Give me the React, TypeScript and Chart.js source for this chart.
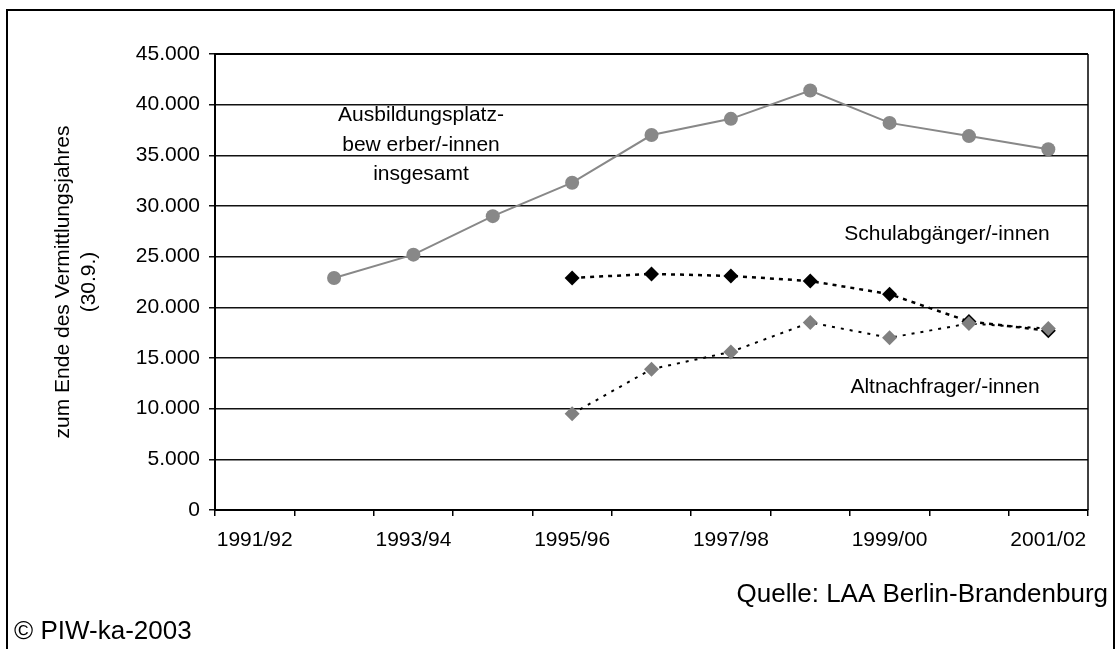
import React, { useEffect, useRef } from 'react';
import { Chart, registerables } from 'chart.js';

Chart.register(...registerables);

// ---- Data ----
const categories = ['1991/92', '1992/93', '1993/94', '1994/95', '1995/96', '1996/97', '1997/98', '1998/99', '1999/00', '2000/01', '2001/02'];
const totalApplicants = [null, 22900, 25200, 29000, 32300, 37000, 38600, 41400, 38200, 36900, 35600];
const schoolLeavers = [null, null, null, null, 22900, 23300, 23100, 22600, 21300, 18600, 17700];
const olderApplicants = [null, null, null, null, 9500, 13900, 15600, 18500, 17000, 18400, 17900];
const seriesNames = ['Ausbildungsplatzbewerber/-innen insgesamt', 'Schulabgänger/-innen', 'Altnachfrager/-innen'];
const yMin = 0;
const yMax = 45000;
const yStep = 5000;
const yTitle = ['zum Ende des Vermittlungsjahres', '(30.9.)'];
const totalLabelLines = ['Ausbildungsplatz-', 'bew erber/-innen', 'insgesamt'];
const schoolLabel = 'Schulabgänger/-innen';
const olderLabel = 'Altnachfrager/-innen';
const sourceText = 'Quelle: LAA Berlin-Brandenburg';
const copyrightText = '© PIW-ka-2003';

const FONT = '"Liberation Sans", Arial, Helvetica, sans-serif';

function formatThousands(v: number): string {
  const s = Math.round(v).toString();
  return s.replace(/\B(?=(\d{3})+(?!\d))/g, '.');
}

const overlayPlugin = {
  id: 'overlay',
  afterDraw(chart: any) {
    const ctx = chart.ctx as CanvasRenderingContext2D;
    const { left, top, right, bottom } = chart.chartArea;
    ctx.save();
    ctx.strokeStyle = '#000';
    // top border of plot
    ctx.lineWidth = 2;
    ctx.beginPath();
    ctx.moveTo(left - 1, top);
    ctx.lineTo(right, top);
    ctx.stroke();
    // right border of plot
    ctx.lineWidth = 1.5;
    ctx.beginPath();
    ctx.moveTo(right, top);
    ctx.lineTo(right, bottom);
    ctx.stroke();
    // outer frame
    ctx.lineWidth = 2;
    ctx.beginPath();
    ctx.moveTo(7, 700);
    ctx.lineTo(7, 10);
    ctx.lineTo(1114, 10);
    ctx.lineTo(1114, 700);
    ctx.stroke();

    ctx.fillStyle = '#000';
    ctx.textBaseline = 'middle';
    ctx.font = `21px ${FONT}`;
    ctx.textAlign = 'center';
    const lineYs = [115, 145, 174];
    totalLabelLines.forEach((t, i) => ctx.fillText(t, 421, lineYs[i]));
    ctx.fillText(schoolLabel, 947, 234);
    ctx.fillText(olderLabel, 945, 387);

    ctx.textBaseline = 'alphabetic';
    ctx.font = `26px ${FONT}`;
    ctx.textAlign = 'right';
    ctx.fillText(sourceText, 1108, 602);
    ctx.textAlign = 'left';
    ctx.fillText(copyrightText, 14, 639);
    ctx.restore();
  },
};

export default function App() {
  const canvasRef = useRef<HTMLCanvasElement | null>(null);

  useEffect(() => {
    if (!canvasRef.current) return;
    const chart = new Chart(canvasRef.current, {
      type: 'line',
      data: {
        labels: categories,
        datasets: [
          {
            label: seriesNames[0],
            data: totalApplicants,
            borderColor: '#888888',
            borderWidth: 2,
            pointStyle: 'circle',
            pointRadius: 7,
            pointBackgroundColor: '#888888',
            pointBorderColor: '#888888',
            pointBorderWidth: 0,
            tension: 0,
            order: 3,
          },
          {
            label: seriesNames[1],
            data: schoolLeavers,
            borderColor: '#000000',
            borderWidth: 2.5,
            borderDash: [4, 5],
            pointStyle: 'rectRot',
            pointRadius: 7.5,
            pointBackgroundColor: '#000000',
            pointBorderColor: '#000000',
            pointBorderWidth: 0,
            tension: 0,
            order: 2,
          },
          {
            label: seriesNames[2],
            data: olderApplicants,
            borderColor: '#000000',
            borderWidth: 2,
            borderDash: [3, 6],
            pointStyle: 'rectRot',
            pointRadius: 7.5,
            pointBackgroundColor: '#808080',
            pointBorderColor: '#808080',
            pointBorderWidth: 0,
            tension: 0,
            order: 1,
          },
        ],
      },
      options: {
        responsive: false,
        animation: false,
        devicePixelRatio: 1,
        layout: { padding: { left: 0, right: 32, top: 54, bottom: 0 } },
        plugins: {
          legend: { display: false },
          tooltip: { enabled: false },
          title: { display: false },
        },
        scales: {
          x: {
            type: 'category',
            offset: true,
            grid: {
              offset: true,
              drawOnChartArea: false,
              drawTicks: true,
              tickLength: 6,
              color: '#000',
              lineWidth: 1.5,
            },
            border: { display: true, color: '#000', width: 2 },
            ticks: {
              autoSkip: false,
              maxRotation: 0,
              padding: 12,
              color: '#000',
              font: { family: FONT, size: 21 },
              callback: function (this: any, value: any, index: number) {
                return index % 2 === 0 ? categories[index] : '';
              },
            },
            afterFit: (scale: any) => {
              scale.height = 139;
            },
          },
          y: {
            min: yMin,
            max: yMax,
            grid: {
              color: '#111',
              lineWidth: 1.5,
              drawTicks: true,
              tickLength: 6,
            },
            border: { display: true, color: '#000', width: 2 },
            ticks: {
              stepSize: yStep,
              padding: 9,
              color: '#000',
              font: { family: FONT, size: 21 },
              callback: (v: any) => formatThousands(Number(v)),
            },
            title: {
              display: true,
              text: yTitle,
              color: '#000',
              font: { family: FONT, size: 21 },
              padding: { top: 51, bottom: 0 },
            },
            afterFit: (scale: any) => {
              scale.width = 215;
            },
          },
        },
      },
      plugins: [overlayPlugin],
    });
    return () => chart.destroy();
  }, []);

  return (
    <div style={{ position: 'absolute', left: 0, top: 0, width: 1120, height: 649, background: '#fff' }}>
      <canvas ref={canvasRef} width={1120} height={649} style={{ display: 'block' }} />
    </div>
  );
}
